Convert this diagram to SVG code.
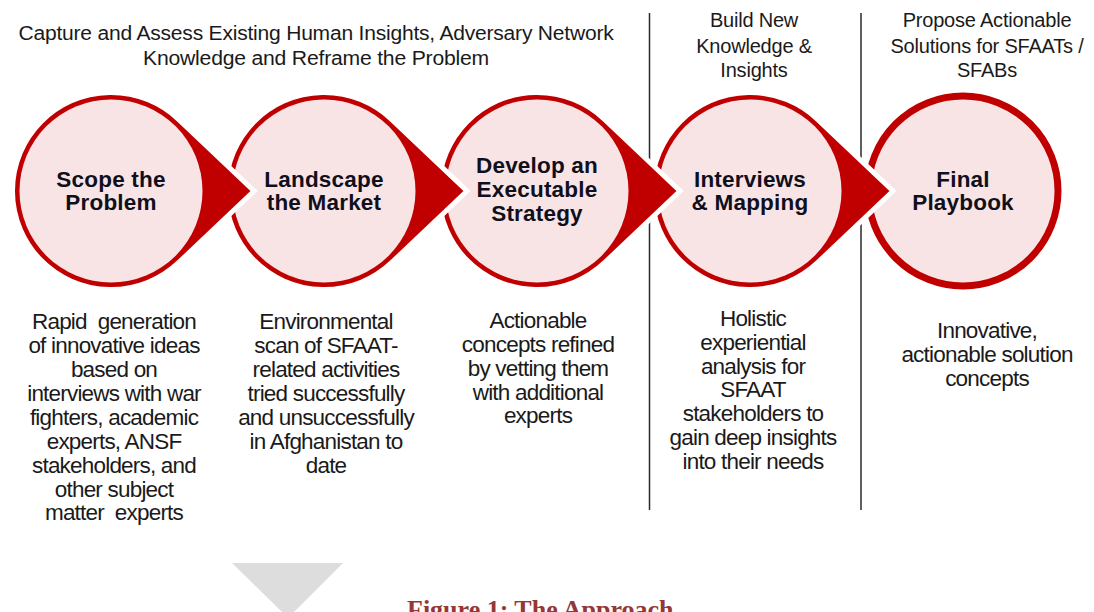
<svg xmlns="http://www.w3.org/2000/svg" width="1094" height="612" viewBox="0 0 1094 612">
  <defs>
    <!-- teardrop step shape: outer circle (r=98.5) with a pointer to the right, tip 143px from centre -->
    <path id="drop" d="M143 0 L67.85 71.4 A98.5 98.5 0 1 1 67.85 -71.4 Z"/>
  </defs>
  <style>
    .ptr { fill: #C00000; stroke: #FFFFFF; stroke-width: 5; stroke-linejoin: miter; }
    .ring { fill: #F9E4E5; stroke: #C00000; stroke-width: 7; }
    .inner { fill: #F9E4E5; }
    .lbl { font-family: "Liberation Sans", Arial, sans-serif; font-weight: bold; font-size: 22.5px; letter-spacing: 0.2px; fill: #10101c; text-anchor: middle; }
    .hdr { font-family: "Liberation Sans", Arial, sans-serif; font-size: 20px; letter-spacing: -0.2px; fill: #1a1a1a; text-anchor: middle; }
    .desc { font-family: "Liberation Sans", Arial, sans-serif; font-size: 22.5px; letter-spacing: -0.8px; fill: #1a1a1a; text-anchor: middle; }
    .divider { stroke: #2a2a2a; stroke-width: 1.5; }
    .cap { font-family: "Liberation Serif", "Times New Roman", serif; font-weight: bold; font-size: 26px; fill: #953735; }
  </style>

  <!-- phase headers -->
  <g id="phase-headers">
    <text class="hdr" x="316" y="40" textLength="595" lengthAdjust="spacingAndGlyphs">Capture and Assess Existing Human Insights, Adversary Network</text>
    <text class="hdr" x="316" y="65" textLength="346" lengthAdjust="spacingAndGlyphs">Knowledge and Reframe the Problem</text>
    <text class="hdr" x="754" y="27">Build New</text>
    <text class="hdr" x="754" y="53">Knowledge &amp;</text>
    <text class="hdr" x="754" y="77">Insights</text>
    <text class="hdr" x="987" y="27">Propose Actionable</text>
    <text class="hdr" x="987" y="53">Solutions for SFAATs /</text>
    <text class="hdr" x="987" y="77">SFABs</text>
  </g>

  <!-- phase dividers -->
  <g id="connectors">
    <line class="divider" x1="649.5" y1="13" x2="649.5" y2="510"/>
    <line class="divider" x1="861" y1="13" x2="861" y2="510"/>
  </g>

  <!-- steps drawn last to first so each pointer overlaps the next circle -->
  <g id="step-final" transform="translate(963 191)">
    <circle class="ring" r="95"/>
    <text class="lbl" x="0" y="-4">Final</text>
    <text class="lbl" x="0" y="19">Playbook</text>
  </g>
  <g id="step-interviews" transform="translate(750 191)">
    <use href="#drop" class="ptr"/>
    <circle class="inner" r="91.5"/>
    <text class="lbl" x="0" y="-4">Interviews</text>
    <text class="lbl" x="0" y="19">&amp; Mapping</text>
  </g>
  <g id="step-strategy" transform="translate(537 191)">
    <use href="#drop" class="ptr"/>
    <circle class="inner" r="91.5"/>
    <text class="lbl" x="0" y="-18">Develop an</text>
    <text class="lbl" x="0" y="6">Executable</text>
    <text class="lbl" x="0" y="30">Strategy</text>
  </g>
  <g id="step-landscape" transform="translate(324 191)">
    <use href="#drop" class="ptr"/>
    <circle class="inner" r="91.5"/>
    <text class="lbl" x="0" y="-4">Landscape</text>
    <text class="lbl" x="0" y="19">the Market</text>
  </g>
  <g id="step-scope" transform="translate(111 191)">
    <use href="#drop" class="ptr"/>
    <circle class="inner" r="91.5"/>
    <text class="lbl" x="0" y="-4">Scope the</text>
    <text class="lbl" x="0" y="19">Problem</text>
  </g>

  <!-- step descriptions -->
  <g id="desc-scope">
    <text class="desc" x="114" y="329">Rapid&#160; generation</text>
    <text class="desc" x="114" y="353">of innovative ideas</text>
    <text class="desc" x="114" y="377">based on</text>
    <text class="desc" x="114" y="401">interviews with war</text>
    <text class="desc" x="114" y="425">fighters, academic</text>
    <text class="desc" x="114" y="449">experts, ANSF</text>
    <text class="desc" x="114" y="473">stakeholders, and</text>
    <text class="desc" x="114" y="497">other subject</text>
    <text class="desc" x="114" y="520">matter&#160; experts</text>
  </g>
  <g id="desc-landscape">
    <text class="desc" x="326" y="329">Environmental</text>
    <text class="desc" x="326" y="353">scan of SFAAT-</text>
    <text class="desc" x="326" y="377">related activities</text>
    <text class="desc" x="326" y="401">tried successfully</text>
    <text class="desc" x="326" y="425">and unsuccessfully</text>
    <text class="desc" x="326" y="449">in Afghanistan to</text>
    <text class="desc" x="326" y="473">date</text>
  </g>
  <g id="desc-strategy">
    <text class="desc" x="538" y="328">Actionable</text>
    <text class="desc" x="538" y="352">concepts refined</text>
    <text class="desc" x="538" y="376">by vetting them</text>
    <text class="desc" x="538" y="400">with additional</text>
    <text class="desc" x="538" y="423">experts</text>
  </g>
  <g id="desc-interviews">
    <text class="desc" x="753" y="326">Holistic</text>
    <text class="desc" x="753" y="350">experiential</text>
    <text class="desc" x="753" y="374">analysis for</text>
    <text class="desc" x="753" y="397">SFAAT</text>
    <text class="desc" x="753" y="421">stakeholders to</text>
    <text class="desc" x="753" y="445">gain deep insights</text>
    <text class="desc" x="753" y="469">into their needs</text>
  </g>
  <g id="desc-final">
    <text class="desc" x="987" y="338">Innovative,</text>
    <text class="desc" x="987" y="362">actionable solution</text>
    <text class="desc" x="987" y="386">concepts</text>
  </g>

  <!-- caption area -->
  <g id="caption">
    <path d="M232 563 L343 563 L295 611 Q288 616 281 611 Z" fill="#DDDDDD"/>
    <text class="cap" x="407" y="618">Figure 1: The Approach</text>
  </g>
</svg>
